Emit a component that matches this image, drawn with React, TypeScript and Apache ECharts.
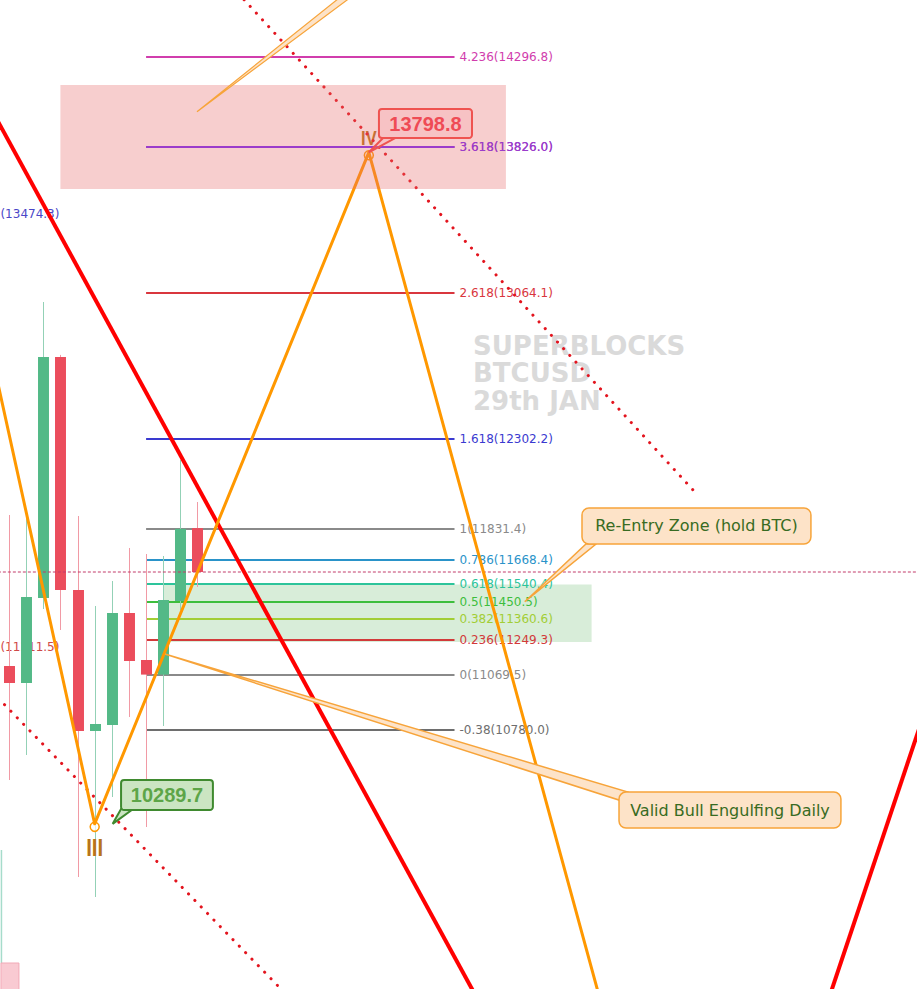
import { useEffect, useRef } from 'react';
import * as echarts from 'echarts';

// ---- Daily BTCUSD candles (bar index, OHLC) ----
const candleBars = [0, 1, 2, 3, 4, 5, 6, 7, 8, 9, 10, 11];
const candleOpen = [11114.4, 11025.6, 11469.8, 12729.1, 11511.6, 10774.8, 10806.1, 11391.4, 11145.8, 11069.5, 11454.1, 11835.0];
const candleClose = [11025.6, 11475.0, 12729.1, 11511.6, 10774.8, 10811.4, 11391.4, 11140.6, 11069.5, 11459.3, 11831.4, 11605.6];
const candleLow = [10518.7, 10649.4, 11412.3, 11302.6, 10011.8, 9907.3, 10429.9, 10847.9, 10273.1, 10800.9, 11407.1, 11527.3];
const candleHigh = [11903.5, 11914.0, 13016.5, 12740.0, 11898.3, 11428.0, 11558.6, 11731.1, 11699.7, 11689.3, 12190.9, 11971.4];

// visible window (bar units / price)
const barWindow = [-0.525, 52.99];
const priceWindow = [9426.6, 14594.7];

// ---- Fibonacci extension ----
const fibRatios = ['4.236', '3.618', '2.618', '1.618', '1', '0.786', '0.618', '0.5', '0.382', '0.236', '0', '-0.38'];
const fibPrices = [14296.8, 13826.0, 13064.1, 12302.2, 11831.4, 11668.4, 11540.4, 11450.5, 11360.6, 11249.3, 11069.5, 10780.0];
const fibStartBar = 8;
const fibEndBar = 26;

// labels of an earlier fib set whose lines sit left of the window
const leftFibTexts = ['(13474.3)', '(11211.5)'];
const leftFibPrices = [13474.3, 11211.5];
const leftFibStartBars = [-0.5, -0.5];

// ---- Elliott count (II, III, IV, projected V) ----
const waveBars = [-2, 5, 21, 35.3];
const wavePrices = [13142.5, 10289.7, 13798.8, 9107.9];
const waveNames = ['', 'III', 'IV', ''];

// ---- trend lines ----
const solidTrendBars = [[-1, 28], [47.5, 53.5]];
const solidTrendPrices = [[14019, 9266], [9284.8, 10890.4]];
const dottedTrendBars = [[13.0, 39.92], [-1, 16.5]];
const dottedTrendPrices = [[14666.4, 12034.1], [10980.5, 9368.9]];

// ---- zones ----
const targetZoneBars = [3, 29];
const targetZonePrices = [13607.0, 14150.5];
const reentryZoneBars = [9, 34];
const reentryZonePrices = [11240.0, 11540.4];

// partial bar at the left edge
const edgeBarBars = [-0.47, 0.58];
const edgeBarPrices = [9300, 9562.4];
const edgeWickPrices = [9562.4, 10152.9];

// ---- callouts ----
const calloutTexts = [
  wavePrices[2].toFixed(1),
  wavePrices[1].toFixed(1),
  'Re-Entry Zone (hold BTC)',
  'Valid Bull Engulfing Daily',
];
const calloutTipBars = [21, 6.05, 30.1, 9.1];
const calloutTipPrices = [13798.8, 10289.7, 11450.5, 11177];
const calloutBaseBars = [[21.83, 22.53], [6.54, 7.24], [33.67, 34.26], [35.6, 36.12]];
const calloutBasePrices = [[13873.5, 13873.5], [10367.1, 10367.1], [11752.0, 11752.0], [10413.8, 10455.6]];
const calloutBoxBars = [[21.59, 27.02], [6.54, 11.9], [33.44, 46.8], [35.6, 48.55]];
const calloutBoxPrices = [[14025.1, 13873.5], [10518.7, 10361.9], [11940.1, 11752.0], [10455.6, 10267.5]];

// leader of a callout sitting above the window
const leaderTipBar = 10.97;
const leaderTipPrice = 14011.0;
const leaderBaseBars = [21.31, 22.08];
const leaderBasePrice = 14751.4;

// ---- styling ----
const fibPalette = ['#D13DAD', '#9B3CCB', '#D9363E', '#3A3AD0', '#8A8A8A', '#2A93C9', '#2DC49B', '#3DBE3D', '#A2CE35', '#D23A3A', '#8A8A8A', '#6E6E6E'];
const leftFibPalette = ['#4A46C8', '#D04848'];
const upBody = '#53B987';
const downBody = '#EB4D5C';
const upWick = '#93D1B6';
const downWick = '#F19AA5';
const orange = '#FF9800';
const countColor = '#B8741A';
const calloutStyles = [
  { fill: 'rgba(246,160,168,0.25)', stroke: '#EF5350', lineWidth: 2, r: 3, text: '#EF4B55', font: 'bold 20px "Liberation Sans", Arial, sans-serif' },
  { fill: '#CBE5C2', stroke: '#3F8A2F', lineWidth: 2, r: 3, text: '#5DA548', font: 'bold 20px "Liberation Sans", Arial, sans-serif' },
  { fill: '#FDE3C8', stroke: '#F7A43A', lineWidth: 1.5, r: 7, text: '#386B22', font: '16px "DejaVu Sans", sans-serif' },
  { fill: '#FDE3C8', stroke: '#F7A43A', lineWidth: 1.5, r: 7, text: '#386B22', font: '16px "DejaVu Sans", sans-serif' },
];

const fibLevelItem = (params: any, api: any) => {
  const i = api.value(0);
  const price = api.value(1);
  const a = api.coord([fibStartBar, price]);
  const b = api.coord([fibEndBar, price]);
  const y = Math.round(a[1]);
  const color = fibPalette[i];
  return {
    type: 'group',
    children: [
      { type: 'line', shape: { x1: a[0], y1: y, x2: b[0], y2: y }, style: { stroke: color, lineWidth: 2 } },
      {
        type: 'text',
        x: b[0] + 5,
        y,
        style: { text: `${fibRatios[i]}(${price.toFixed(1)})`, fill: color, font: '12px "DejaVu Sans", sans-serif', align: 'left', verticalAlign: 'middle' },
      },
    ],
  };
};

const zoneItem = (fill: string) => (params: any, api: any) => {
  const p0 = api.coord([api.value(0), api.value(3)]);
  const p1 = api.coord([api.value(1), api.value(2)]);
  return {
    type: 'rect',
    shape: { x: p0[0], y: p0[1], width: p1[0] - p0[0], height: p1[1] - p0[1] },
    style: { fill },
  };
};

const candleItem = (params: any, api: any) => {
  const bar = api.value(0);
  const o = api.value(1);
  const c = api.value(2);
  const lo = api.value(3);
  const hi = api.value(4);
  const up = c >= o;
  const pO = api.coord([bar, o]);
  const pC = api.coord([bar, c]);
  const pL = api.coord([bar, lo]);
  const pH = api.coord([bar, hi]);
  const w = api.size([1, 0])[0] * 0.64;
  const x = Math.round(pO[0]) + 0.5;
  const top = Math.min(pO[1], pC[1]);
  const bottom = Math.max(pO[1], pC[1]);
  return {
    type: 'group',
    children: [
      { type: 'line', shape: { x1: x, y1: pH[1], x2: x, y2: pL[1] }, style: { stroke: up ? upWick : downWick, lineWidth: 1 } },
      { type: 'rect', shape: { x: x - w / 2, y: top, width: w, height: Math.max(bottom - top, 1) }, style: { fill: up ? upBody : downBody } },
    ],
  };
};

const App = () => {
  const ref = useRef<HTMLDivElement>(null);

  useEffect(() => {
    if (!ref.current) return;
    const chart = echarts.init(ref.current, null, { renderer: 'svg' });

    const lineSeries = (bars: number[], prices: number[], style: any, z: number) => ({
      type: 'line',
      data: bars.map((b, i) => [b, prices[i]]),
      showSymbol: false,
      symbol: 'none',
      silent: true,
      z,
      lineStyle: style,
    });

    const inTargetZone = fibPrices
      .map((p, i) => [i, p])
      .filter(([, p]) => p >= targetZonePrices[0] && p <= targetZonePrices[1]);

    const lastClose = candleClose[candleClose.length - 1];

    const option: any = {
      animation: false,
      backgroundColor: '#ffffff',
      grid: { left: 0, right: 0, top: 0, bottom: 0 },
      xAxis: { type: 'value', min: barWindow[0], max: barWindow[1], show: false },
      yAxis: { type: 'value', min: priceWindow[0], max: priceWindow[1], show: false },
      graphic: {
        elements: [
          {
            type: 'text',
            left: 473,
            top: 332,
            z: 0,
            silent: true,
            style: {
              text: 'SUPERBLOCKS\nBTCUSD\n29th JAN',
              font: 'bold 26px "DejaVu Sans", sans-serif',
              fill: '#DADADA',
              lineHeight: 27.5,
            },
          },
        ],
      },
      series: [
        // re-entry zone
        {
          type: 'custom',
          z: 1,
          silent: true,
          renderItem: zoneItem('rgba(76,175,80,0.22)'),
          data: [[reentryZoneBars[0], reentryZoneBars[1], reentryZonePrices[0], reentryZonePrices[1]]],
        },
        // fib levels
        {
          type: 'custom',
          z: 2,
          silent: true,
          renderItem: fibLevelItem,
          data: fibPrices.map((p, i) => [i, p]),
        },
        // left-hand fib labels
        {
          type: 'custom',
          z: 2,
          silent: true,
          renderItem: (params: any, api: any) => {
            const i = params.dataIndex;
            const pt = api.coord([api.value(0), api.value(1)]);
            return {
              type: 'text',
              x: pt[0],
              y: Math.round(pt[1]),
              style: { text: leftFibTexts[i], fill: leftFibPalette[i], font: '12px "DejaVu Sans", sans-serif', align: 'left', verticalAlign: 'middle' },
            };
          },
          data: leftFibPrices.map((p, i) => [leftFibStartBars[i], p]),
        },
        // partial bar at the left edge
        {
          type: 'custom',
          z: 2,
          silent: true,
          renderItem: (params: any, api: any) => {
            const a = api.coord([edgeBarBars[0], edgeBarPrices[1]]);
            const b = api.coord([edgeBarBars[1], edgeBarPrices[0]]);
            const w0 = api.coord([edgeBarBars[0], edgeWickPrices[1]]);
            return {
              type: 'group',
              children: [
                { type: 'line', shape: { x1: a[0] + 0.5, y1: w0[1], x2: a[0] + 0.5, y2: a[1] }, style: { stroke: '#A6DCCB', lineWidth: 1.5 } },
                { type: 'rect', shape: { x: a[0], y: a[1], width: b[0] - a[0], height: b[1] - a[1] }, style: { fill: '#F9CAD2', stroke: '#F2A9B6', lineWidth: 1 } },
              ],
            };
          },
          data: [[edgeBarBars[0], edgeBarPrices[1]]],
        },
        // candles
        {
          type: 'custom',
          z: 3,
          silent: true,
          renderItem: candleItem,
          data: candleBars.map((b, i) => [b, candleOpen[i], candleClose[i], candleLow[i], candleHigh[i]]),
        },
        // last close
        lineSeries([barWindow[0] - 1, barWindow[1] + 1], [lastClose, lastClose], { color: '#C23A6A', width: 1, type: [3, 2] }, 4),
        // solid trend lines
        ...solidTrendBars.map((bars, k) => lineSeries(bars, solidTrendPrices[k], { color: '#FF0000', width: 4 }, 4)),
        // dotted trend lines
        ...dottedTrendBars.map((bars, k) =>
          lineSeries(bars, dottedTrendPrices[k], { color: '#E3141E', width: 3, type: [0.1, 9], cap: 'round' }, 4)
        ),
        // wave path
        lineSeries(waveBars, wavePrices, { color: orange, width: 3, join: 'round' }, 4),
        // wave pivots
        {
          type: 'custom',
          z: 4,
          silent: true,
          renderItem: (params: any, api: any) => {
            const name = waveNames[params.dataIndex];
            if (!name) return null;
            const pt = api.coord([api.value(0), api.value(1)]);
            const below = name === 'III';
            return {
              type: 'group',
              children: [
                { type: 'circle', shape: { cx: pt[0], cy: pt[1] + 3, r: 4.5 }, style: { fill: 'rgba(255,255,255,0.7)', stroke: orange, lineWidth: 1.5 } },
                {
                  type: 'text',
                  x: pt[0],
                  y: below ? pt[1] + 24 : pt[1] - 15,
                  scaleX: below ? 0.85 : 0.78,
                  style: {
                    text: name,
                    fill: countColor,
                    font: below ? 'bold 24px "Liberation Sans", Arial, sans-serif' : 'bold 21px "Liberation Sans", Arial, sans-serif',
                    align: 'center',
                    verticalAlign: 'middle',
                  },
                },
              ],
            };
          },
          data: waveBars.map((b, i) => [b, wavePrices[i]]),
        },
        // target zone
        {
          type: 'custom',
          z: 5,
          silent: true,
          renderItem: zoneItem('rgba(230,105,105,0.33)'),
          data: [[targetZoneBars[0], targetZoneBars[1], targetZonePrices[0], targetZonePrices[1]]],
        },
        // fib levels that sit inside the target zone
        {
          type: 'custom',
          z: 6,
          silent: true,
          renderItem: fibLevelItem,
          data: inTargetZone,
        },
        // leader from the callout above
        {
          type: 'custom',
          z: 7,
          silent: true,
          renderItem: (params: any, api: any) => {
            const tip = api.coord([leaderTipBar, leaderTipPrice]);
            const b0 = api.coord([leaderBaseBars[0], leaderBasePrice]);
            const b1 = api.coord([leaderBaseBars[1], leaderBasePrice]);
            return {
              type: 'polygon',
              shape: { points: [tip, b0, b1] },
              style: { fill: '#FDE3C8', stroke: '#F7A43A', lineWidth: 1.2 },
            };
          },
          data: [[leaderTipBar, leaderTipPrice]],
        },
        // callouts
        {
          type: 'custom',
          z: 7,
          silent: true,
          renderItem: (params: any, api: any) => {
            const i = params.dataIndex;
            const st = calloutStyles[i];
            const tip = api.coord([calloutTipBars[i], calloutTipPrices[i]]);
            const b0 = api.coord([calloutBaseBars[i][0], calloutBasePrices[i][0]]);
            const b1 = api.coord([calloutBaseBars[i][1], calloutBasePrices[i][1]]);
            const tl = api.coord([calloutBoxBars[i][0], calloutBoxPrices[i][0]]);
            const br = api.coord([calloutBoxBars[i][1], calloutBoxPrices[i][1]]);
            return {
              type: 'group',
              children: [
                { type: 'polygon', shape: { points: [tip, b0, b1] }, style: { fill: st.fill, stroke: st.stroke, lineWidth: st.lineWidth } },
                {
                  type: 'rect',
                  shape: { x: tl[0], y: tl[1], width: br[0] - tl[0], height: br[1] - tl[1], r: st.r },
                  style: { fill: st.fill, stroke: st.stroke, lineWidth: st.lineWidth },
                },
                {
                  type: 'text',
                  x: (tl[0] + br[0]) / 2,
                  y: (tl[1] + br[1]) / 2,
                  style: { text: calloutTexts[i], fill: st.text, font: st.font, align: 'center', verticalAlign: 'middle' },
                },
              ],
            };
          },
          data: calloutTipBars.map((b, i) => [b, calloutTipPrices[i]]),
        },
      ],
    };

    chart.setOption(option);
    return () => chart.dispose();
  }, []);

  return (
    <div
      ref={ref}
      style={{ position: 'fixed', left: 0, top: 0, width: 917, height: 989, background: '#ffffff' }}
    />
  );
};

export default App;
